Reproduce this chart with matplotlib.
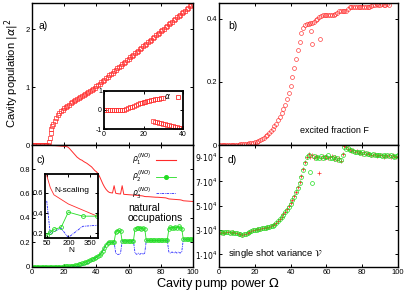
import numpy as np
import matplotlib
matplotlib.use("Agg")
from matplotlib import pyplot as plt
from matplotlib.lines import Line2D

plt.rcParams["font.family"] = ["Liberation Sans", "DejaVu Sans"]
plt.rcParams["mathtext.fontset"] = "dejavusans"
plt.rcParams["axes.unicode_minus"] = False

RED = "#ff2a2a"
GREEN = "#22dd22"
BLUE = "#2b2bff"

# ---- panel a: cavity population |alpha|^2 vs pump power
omega_a = np.arange(0, 101)
pop_a = [0, 0, 0, 0, 0, 0, 0, 0, 0, 0,
         0.0, 0.12, 0.27, 0.36, 0.42, 0.47, 0.52, 0.55, 0.58, 0.61,
         0.63, 0.65, 0.67, 0.69, 0.72, 0.74, 0.76, 0.78, 0.80, 0.81,
         0.83, 0.85, 0.86, 0.88, 0.90, 0.92, 0.94, 0.95, 0.97, 0.99,
         1.01, 1.03, 1.06, 1.08, 1.11, 1.13, 1.15, 1.18, 1.20, 1.22,
         1.25, 1.27, 1.30, 1.32, 1.34, 1.37, 1.39, 1.41, 1.44, 1.46,
         1.49, 1.51, 1.53, 1.56, 1.58, 1.60, 1.63, 1.65, 1.68, 1.70,
         1.72, 1.75, 1.77, 1.79, 1.82, 1.84, 1.86, 1.89, 1.91, 1.94,
         1.96, 1.98, 2.01, 2.03, 2.05, 2.08, 2.10, 2.12, 2.15, 2.17,
         2.20, 2.22, 2.24, 2.27, 2.29, 2.31, 2.34, 2.36, 2.39, 2.41,
         2.43]
omega_a_extra = [10.5, 11.5, 12.5]
pop_a_extra = [0.05, 0.2, 0.32]

# inset: alpha, two branches
omega_up = np.arange(0, 31)
alpha_up = [0.0] * 11 + [0.03, 0.08, 0.13, 0.18, 0.23, 0.27, 0.31, 0.34, 0.37, 0.40,
                         0.43, 0.46, 0.49, 0.51, 0.53, 0.55, 0.57, 0.59, 0.61, 0.62]
omega_low = np.arange(25, 41)
alpha_low = [-0.58, -0.61, -0.64, -0.67, -0.69, -0.72, -0.74, -0.76,
             -0.79, -0.81, -0.83, -0.86, -0.88, -0.91, -0.94, -0.97]

# ---- panel b: excited fraction
omega_b = np.arange(0, 96)
frac_b = [0, 0, 0, 0, 0, 0, 0, 0, 0, 0,
          0.001, 0.001, 0.002, 0.002, 0.003, 0.003, 0.004, 0.005, 0.006, 0.007,
          0.008, 0.010, 0.012, 0.015, 0.018, 0.022, 0.027, 0.032, 0.038, 0.044,
          0.051, 0.059, 0.068, 0.078, 0.089, 0.101, 0.114, 0.128, 0.145, 0.165,
          0.188, 0.215, 0.245, 0.272, 0.300, 0.325, 0.355, 0.372, 0.380, 0.385,
          0.383, 0.388, 0.386, 0.390, 0.395, 0.400, 0.405, 0.408, 0.411, 0.412,
          0.412, 0.413, 0.412, 0.413, 0.412, 0.414, 0.418, 0.424, 0.425, 0.426,
          0.425, 0.426, 0.430, 0.436, 0.436, 0.437, 0.436, 0.436, 0.437, 0.436,
          0.436, 0.437, 0.436, 0.437, 0.436, 0.440, 0.445, 0.445, 0.446, 0.445,
          0.445, 0.446, 0.445, 0.445, 0.446, 0.445]
omega_b_out = [51.5, 52, 56.5]
frac_b_out = [0.362, 0.320, 0.335]

# ---- panel c: natural occupations
omega_c = np.arange(0, 101)
rho1 = [0.997] * 11 + [0.996, 0.996, 0.995, 0.995, 0.994, 0.993, 0.992, 0.991, 0.990,
                       0.989, 0.987, 0.985, 0.975, 0.96, 0.945, 0.93, 0.915, 0.90, 0.89,
                       0.88, 0.875, 0.865, 0.857, 0.85, 0.84, 0.83, 0.82, 0.805, 0.79,
                       0.78, 0.765, 0.74, 0.71, 0.68, 0.655, 0.635, 0.62, 0.61, 0.607,
                       0.605, 0.665, 0.603, 0.600, 0.598, 0.597, 0.665, 0.594, 0.593, 0.592,
                       0.591, 0.590, 0.589, 0.588, 0.587, 0.585, 0.584, 0.583, 0.582, 0.580,
                       0.576, 0.575, 0.575, 0.574, 0.573, 0.572, 0.571, 0.570, 0.570, 0.569,
                       0.568, 0.567, 0.566, 0.565, 0.561, 0.556, 0.555, 0.554, 0.553, 0.552,
                       0.551, 0.550, 0.549, 0.546, 0.541, 0.540, 0.539, 0.538, 0.537, 0.536,
                       0.535]
rho2 = [0.0] * 20 + [0.001, 0.001, 0.002, 0.003, 0.004, 0.006, 0.008, 0.011, 0.014, 0.018,
                     0.022, 0.026, 0.030, 0.035, 0.040, 0.046, 0.052, 0.058, 0.064, 0.070,
                     0.077, 0.085, 0.095, 0.11, 0.13, 0.155, 0.18, 0.195, 0.20, 0.20,
                     0.20, 0.20, 0.28, 0.295, 0.30, 0.29, 0.21, 0.21, 0.21, 0.21,
                     0.21, 0.21, 0.21, 0.21, 0.31, 0.32, 0.315, 0.32, 0.31, 0.32,
                     0.31] + [0.215] * 14 + [0.31, 0.325, 0.32, 0.315, 0.325, 0.32, 0.33, 0.32, 0.31] \
       + [0.225] * 7
rho3 = [0.0] * 30 + [0.005, 0.008, 0.012, 0.016, 0.022, 0.028, 0.035, 0.045, 0.055, 0.065,
                     0.075, 0.085, 0.095, 0.11, 0.13, 0.155, 0.18, 0.195, 0.20, 0.20,
                     0.20, 0.20, 0.11, 0.10, 0.10, 0.11] + [0.21] * 8 \
       + [0.11, 0.10, 0.11, 0.10, 0.11, 0.10, 0.11] + [0.215] * 14 \
       + [0.12, 0.11, 0.12, 0.11, 0.12, 0.11, 0.12, 0.11, 0.12] + [0.225] * 7

# inset: N-scaling
n_atoms = [50, 75, 100, 150, 200, 300, 400]
rho1_n = [0.77, 0.65, 0.58, 0.535, 0.49, 0.43, 0.37]
rho2_n = [0.18, 0.21, 0.24, 0.26, 0.41, 0.37, 0.37]
rho3_n = [0.52, 0.19, 0.22, 0.25, 0.16, 0.27, 0.28]

# ---- panel d: single shot variance (units of 1e4)
omega_d = np.arange(0, 101)
var_green = [2.80, 2.81, 2.79, 2.80, 2.82, 2.80, 2.79, 2.81, 2.78, 2.77,
             2.74, 2.70, 2.66, 2.63, 2.64, 2.68, 2.74, 2.83, 2.92, 2.97,
             3.01, 3.04, 3.07, 3.10, 3.13, 3.16, 3.19, 3.22, 3.26, 3.30,
             3.35, 3.45, 3.58, 3.72, 3.88, 4.05, 4.25, 4.45, 4.68, 4.92,
             5.18, 5.45, 5.75, 6.10, 6.50, 6.90, 7.40, 7.95, 8.50, 9.00,
             9.20, 7.80, 6.90, 9.10, 8.95, 9.05, 8.90, 9.10, 8.95, 9.05,
             9.00, 9.15, 8.90, 8.95, 9.05, 8.85, 8.95, 8.75, 8.80, 9.20,
             9.80, 9.70, 9.75, 9.60, 9.55, 9.50, 9.45, 9.40, 9.45, 9.35,
             9.40, 9.30, 9.35, 9.30, 9.25, 9.20, 9.25, 9.15, 9.20, 9.15,
             9.20, 9.10, 9.15, 9.10, 9.20, 9.10, 9.15, 9.10, 9.05, 9.10,
             9.15]
var_red = [2.82, 2.79, 2.81, 2.78, 2.80, 2.82, 2.80, 2.78, 2.80, 2.76,
           2.72, 2.69, 2.64, 2.62, 2.66, 2.70, 2.77, 2.85, 2.93, 2.99,
           3.03, 3.05, 3.09, 3.11, 3.14, 3.18, 3.20, 3.24, 3.27, 3.32,
           3.38, 3.48, 3.60, 3.75, 3.90, 4.08, 4.28, 4.50, 4.72, 4.95,
           5.22, 5.50, 5.80, 6.15, 6.55, 6.95, 7.45, 8.00, 8.60, 9.05,
           9.25, 9.05, 9.15, 8.90, 9.10, 9.00, 7.70, 8.95, 9.10, 8.90,
           9.10, 8.95, 9.05, 9.10, 8.85, 9.00, 8.80, 8.90, 8.70, 9.30,
           9.90, 9.85, 9.65, 9.70, 9.50, 9.55, 9.40, 9.50, 9.35, 9.45,
           9.30, 9.40, 9.25, 9.35, 9.30, 9.15, 9.20, 9.25, 9.10, 9.20,
           9.15, 9.20, 9.05, 9.15, 9.10, 9.15, 9.05, 9.20, 9.10, 9.05,
           9.10]
d_ticks = [1, 3, 5, 7, 9]

x_ticks = [0, 20, 40, 60, 80, 100]

TICK = 5.5


def style(ax, lw=1.0, size=TICK):
    ax.tick_params(direction="in", top=True, right=True, length=2.5, width=0.7,
                   labelsize=size, pad=1.5)
    for s in ax.spines.values():
        s.set_linewidth(lw)


W, H = 415, 291
fig = plt.figure(figsize=(W / 100, H / 100), dpi=100)


def box(x0, y0, x1, y1):
    return [x0 / W, 1 - y1 / H, (x1 - x0) / W, (y1 - y0) / H]


ax_a = fig.add_axes(box(32, 3, 193, 145))
ax_b = fig.add_axes(box(219, 3, 398, 145))
ax_c = fig.add_axes(box(32, 145, 193, 266.5))
ax_d = fig.add_axes(box(219, 145, 398, 266.5))

# panel a
sq = dict(ls="none", marker="s", ms=2.4, mfc="none", mec=RED, mew=0.5)
ax_a.plot(omega_a, pop_a, **sq)
ax_a.plot(omega_a_extra, pop_a_extra, **sq)
ax_a.set_xlim(0, 100)
ax_a.set_ylim(0, 2.45)
ax_a.set_xticks(x_ticks)
ax_a.set_xticklabels([])
ax_a.set_yticks([0, 1, 2])
style(ax_a)
ax_a.text(0.04, 0.84, "a)", transform=ax_a.transAxes, fontsize=7.5, va="center")

ins_a = fig.add_axes(box(104, 90.7, 183, 129.3))
ins_a.plot(omega_up, alpha_up, **sq)
ins_a.plot(omega_low, alpha_low, **sq)
ins_a.set_xlim(0, 40)
ins_a.set_ylim(-1, 1)
ins_a.set_xticks([0, 20, 40])
ins_a.set_yticks([-1, 0, 1])
style(ins_a, lw=1.3, size=5)
ins_a.legend(handles=[Line2D([], [], ls="none", marker="s", ms=3, mfc="none", mec=RED, mew=0.6)],
             labels=[r"$\alpha$"], loc="upper right", frameon=False, markerfirst=False,
             fontsize=5.5, handlelength=1, handletextpad=0.4, borderaxespad=0.1, borderpad=0.1)

# panel b
ax_b.plot(omega_b, frac_b, ls="none", marker="o", ms=2.8, mfc="none", mec=RED, mew=0.45)
ax_b.plot(omega_b_out, frac_b_out, ls="none", marker="o", ms=2.8, mfc="none", mec=RED, mew=0.45)
ax_b.set_xlim(0, 100)
ax_b.set_ylim(0, 0.45)
ax_b.set_xticks(x_ticks)
ax_b.set_xticklabels([])
ax_b.set_yticks([0, 0.2, 0.4])
ax_b.set_yticklabels(["0", "0.2", "0.4"])
style(ax_b)
ax_b.text(0.05, 0.84, "b)", transform=ax_b.transAxes, fontsize=7.5, va="center")
ax_b.text(0.45, 0.1, "excited fraction F", transform=ax_b.transAxes, fontsize=6.5, va="center")

# panel c
ax_c.plot(omega_c, rho1, color=RED, lw=0.7)
ax_c.plot(omega_c, rho3, color=BLUE, lw=0.6, ls=(0, (3, 1, 1, 1)))
ax_c.plot(omega_c, rho2, color=GREEN, lw=0.6, marker="o", ms=2.6, mfc="none", mec=GREEN, mew=0.6)
ax_c.set_xlim(0, 100)
ax_c.set_ylim(0, 1.0)
ax_c.set_xticks(x_ticks)
ax_c.set_yticks([0, 0.2, 0.4, 0.6, 0.8])
ax_c.set_yticklabels(["0", "0.2", "0.4", "0.6", "0.8"])
style(ax_c)
ax_c.text(0.025, 0.88, "c)", transform=ax_c.transAxes, fontsize=7.5, va="center")
ax_c.text(0.596, 0.44, "natural\noccupations", transform=ax_c.transAxes, fontsize=7.5,
          va="center", linespacing=1.0)
handles = [Line2D([], [], color=RED, lw=0.8),
           Line2D([], [], color=GREEN, lw=0.6, marker="o", ms=2.6, mfc=GREEN, mec=GREEN),
           Line2D([], [], color=BLUE, lw=0.6, ls=(0, (3, 1, 1, 1)))]
labels = [r"$\rho_1^{(NO)}$", r"$\rho_2^{(NO)}$", r"$\rho_3^{(NO)}$"]
ax_c.legend(handles=handles, labels=labels, loc="upper right", bbox_to_anchor=(0.92, 0.98),
            frameon=False, markerfirst=False, fontsize=5.5, handlelength=2.6,
            handletextpad=0.6, labelspacing=0.15, borderpad=0.1)

ins_c = fig.add_axes(box(45, 174, 98, 238))
ins_c.plot(n_atoms, rho1_n, color=RED, lw=0.6)
ins_c.plot(n_atoms, rho3_n, color=BLUE, lw=0.6, ls=(0, (3, 1, 1, 1)))
ins_c.plot(n_atoms, rho2_n, color=GREEN, lw=0.6, marker="o", ms=2.8, mfc="none", mec=GREEN, mew=0.6)
ins_c.set_xlim(38, 406)
ins_c.set_ylim(0.155, 0.785)
ins_c.set_xticks([50, 200, 350])
ins_c.set_yticks([0.2, 0.4, 0.6])
style(ins_c, lw=1.3, size=5.5)
ins_c.set_xlabel("N", fontsize=6, labelpad=0)
ins_c.text(0.5, 0.75, "N-scaling", transform=ins_c.transAxes, fontsize=6, ha="center", va="center")

# panel d
ax_d.plot(omega_d, np.array(var_red) * 1e4, ls="none", marker="+", ms=3.0, mec=RED, mew=0.5)
ax_d.plot(omega_d, np.array(var_green) * 1e4, ls="none", marker="o", ms=2.8, mfc="none",
          mec=GREEN, mew=0.5)
ax_d.set_xlim(0, 100)
ax_d.set_ylim(0, 1.0e5)
ax_d.set_xticks(x_ticks)
ax_d.set_yticks([t * 1e4 for t in d_ticks])
ax_d.set_yticklabels([r"$%d{\cdot}10^4$" % t for t in d_ticks])
style(ax_d)
ax_d.text(0.05, 0.876, "d)", transform=ax_d.transAxes, fontsize=7.5, va="center")
ax_d.text(0.05, 0.11, r"single shot variance $\mathcal{V}$", transform=ax_d.transAxes,
          fontsize=6.8, va="center")

fig.text(12 / W, 1 - 73 / H, r"Cavity population $|\alpha|^2$", rotation=90,
         ha="center", va="center", fontsize=8)
fig.text(218 / W, 1 - 283.5 / H, r"Cavity pump power $\Omega$", ha="center", va="center",
         fontsize=9.2)

fig.savefig("out.png", dpi=100)
